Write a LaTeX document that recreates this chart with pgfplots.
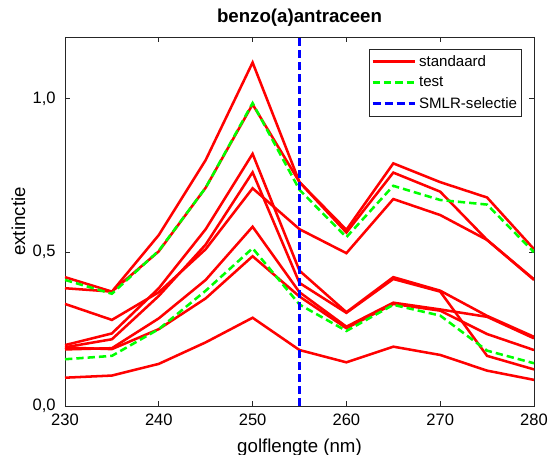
\documentclass[border=0pt]{standalone}
\usepackage{fontspec}
\setmainfont{Liberation Sans}
\usepackage{pgfplots}
\pgfplotsset{compat=1.18}
\usepackage{pgfplotstable}
\definecolor{mred}{rgb}{1,0,0}
\definecolor{mgreen}{rgb}{0,1,0}
\definecolor{mblue}{rgb}{0,0,1}
\definecolor{axgray}{rgb}{0.15,0.15,0.15}

\pgfplotstableread{
x   A     B     C     D     E     F     H     I     G1    G2
230 0.383 0.419 0.332 0.198 0.191 0.184 0.190 0.092 0.410 0.152
235 0.372 0.372 0.280 0.236 0.217 0.188 0.185 0.099 0.365 0.163
240 0.556 0.503 0.370 0.383 0.358 0.285 0.250 0.137 0.505 0.250
245 0.800 0.710 0.510 0.575 0.525 0.410 0.350 0.207 0.710 0.375
250 1.117 0.981 0.708 0.820 0.760 0.583 0.487 0.287 0.985 0.513
255 0.728 0.728 0.575 0.440 0.400 0.370 0.356 0.182 0.703 0.330
260 0.573 0.564 0.497 0.305 0.303 0.258 0.253 0.142 0.549 0.244
265 0.789 0.759 0.673 0.419 0.413 0.336 0.332 0.193 0.716 0.329
270 0.728 0.697 0.621 0.375 0.372 0.314 0.310 0.166 0.670 0.294
275 0.678 0.540 0.540 0.293 0.163 0.290 0.234 0.115 0.655 0.180
280 0.510 0.412 0.410 0.225 0.119 0.220 0.182 0.085 0.500 0.139
}\data

\begin{document}
\begin{tikzpicture}
\begin{axis}[
  name=ax,
  scale only axis,
  width=351.75pt, height=276.75pt,
  xmin=230, xmax=280, ymin=0, ymax=1.2,
  xtick={230,240,250,260,270,280},
  ytick={0,0.5,1},
  yticklabels={{0,0},{0,5},{1,0}},
  /pgf/number format/assume math mode=true,
  tick align=inside,
  xtick pos=both, ytick pos=both,
  xticklabel pos=lower, yticklabel pos=left,
  major tick length=3.5pt,
  axis line style={axgray, line width=0.6pt},
  every tick/.style={axgray, line width=0.6pt},
  tick label style={font=\fontsize{12.4}{14}\selectfont, text=black},
  xticklabel style={yshift=-2.5pt},
  yticklabel style={xshift=-3.5pt},
  title={\textbf{benzo(a)antraceen}},
  title style={font=\fontsize{14}{16}\selectfont, at={(axis description cs:0.5,1)}, anchor=base, yshift=5pt},
  xlabel={golflengte (nm)},
  xlabel style={font=\fontsize{14}{16}\selectfont, at={(axis description cs:0.5,0)}, anchor=base, yshift=-35pt},
  ylabel={extinctie},
  ylabel style={font=\fontsize{14}{16}\selectfont, at={(axis description cs:0,0.5)}, anchor=center, yshift=35pt},
  legend style={at={(axis description cs:1,1)}, anchor=north east, xshift=-9pt, yshift=-9pt,
    draw=axgray, fill=white, font=\fontsize{11.3}{13}\selectfont, inner xsep=1.5pt, inner ysep=2.5pt,
    row sep=2.5pt, cells={anchor=west}},
  legend image code/.code={\draw[#1] (0pt,0pt) -- (32pt,0pt);},
  every axis plot/.append style={line width=1.9pt},
]
\addplot[mred] table[x=x,y=A]{\data};
\addlegendentry{standaard}
\addplot[mred, forget plot] table[x=x,y=B]{\data};
\addplot[mred, forget plot] table[x=x,y=C]{\data};
\addplot[mred, forget plot] table[x=x,y=D]{\data};
\addplot[mred, forget plot] table[x=x,y=E]{\data};
\addplot[mred, forget plot] table[x=x,y=F]{\data};
\addplot[mred, forget plot] table[x=x,y=H]{\data};
\addplot[mred, forget plot] table[x=x,y=I]{\data};
\addplot[mgreen, dash pattern=on 5.5pt off 3pt] table[x=x,y=G1]{\data};
\addlegendentry{test}
\addplot[mgreen, dash pattern=on 5.5pt off 3pt, forget plot] table[x=x,y=G2]{\data};
\addplot[mblue, dash pattern=on 6pt off 3pt] coordinates {(255,0) (255,1.2)};
\addlegendentry{SMLR-selectie}
\end{axis}
\pgfresetboundingbox
\path[use as bounding box] ([shift={(-48.75pt,-36.75pt)}]ax.south west) rectangle ([shift={(10.5pt,27.75pt)}]ax.north east);
\end{tikzpicture}
\end{document}
